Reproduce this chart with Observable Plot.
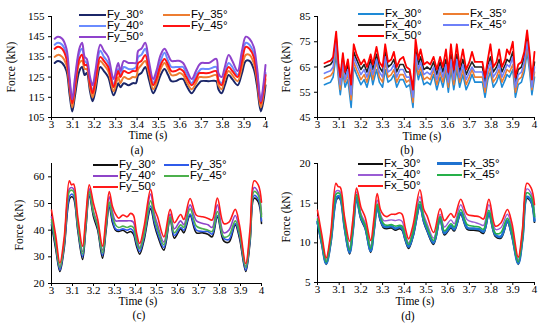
<!DOCTYPE html>
<html><head><meta charset="utf-8">
<script src="https://cdn.jsdelivr.net/npm/d3@7"></script>
<script src="https://cdn.jsdelivr.net/npm/@observablehq/plot@0.6"></script>
<style>
html,body{margin:0;padding:0;background:#fff;}
#root{position:relative;width:550px;height:329px;overflow:hidden;font-family:"Liberation Serif","Times New Roman",serif;color:#000;background:#fff;}
#root svg{position:absolute;}
.abs{position:absolute;white-space:nowrap;line-height:1;}
.leg{font-family:"Liberation Sans",Arial,sans-serif;font-size:11.5px;transform:translateY(-50%);}
.ttl{font-family:"Liberation Serif","Times New Roman",serif;font-size:11.5px;transform:translate(-50%,-50%);}
.rot{font-family:"Liberation Serif","Times New Roman",serif;font-size:11.5px;transform:translate(-50%,-50%) rotate(-90deg);}
</style></head><body><div id="root"></div>
<script>
// ---------- data ----------
const xTicks = [3, 3.1, 3.2, 3.3, 3.4, 3.5, 3.6, 3.7, 3.8, 3.9, 4];
const yTicksA = [105, 115, 125, 135, 145, 155];
const yTicksB = [45, 55, 65, 75, 85];
const yTicksC = [20, 30, 40, 50, 60];
const yTicksD = [5, 10, 15, 20];

const namesA = ["Fy_30°", "Fy_35°", "Fy_40°", "Fy_45°", "Fy_50°"];
const namesB = ["Fx_30°", "Fx_35°", "Fx_40°", "Fx_45°", "Fx_50°"];
const namesC = ["Fy_30°", "Fy_35°", "Fy_40°", "Fy_45°", "Fy_50°"];
const namesD = ["Fx_30°", "Fx_35°", "Fx_40°", "Fx_45°", "Fx_50°"];

// (a)
const tA = [3.015,3.03,3.05,3.07,3.085,3.097,3.11,3.13,3.143,3.155,3.165,3.18,3.192,3.205,3.228,3.245,3.265,3.29,3.305,3.312,3.322,3.338,3.36,3.38,3.395,3.405,3.42,3.438,3.455,3.475,3.49,3.51,3.528,3.545,3.56,3.58,3.60,3.615,3.63,3.655,3.675,3.69,3.70,3.735,3.77,3.78,3.795,3.81,3.828,3.845,3.87,3.89,3.908,3.925,3.945,3.96,3.978,3.99,4.0];
const a30 = [132,133,132,128,116,108,116,128,130,126,127,118,113,118,130,128,125,116,120,122,120,122,121,122,122,126,127,130,124,117,120,126,129,126,123,123,124,124,121,117,120,122,123,123,123,119,117,121,126,124,121,127,133,133,129,121,108,113,121];
const a35 = [135,136,135,131,119,110,119,132,133,129,129,120,115,121,133,131,128,118,123,125,122,125,124,125,125,129,131,133,127,119,122,129,132,129,126,126,127,126,123,119,122,125,125,125,126,121,119,124,128,126,123,130,136,136,132,124,110,116,124];
const a40 = [141,142,141,136,122,113,123,137,139,133,132,123,118,125,138,135,132,121,127,129,126,130,129,129,130,135,136,139,131,122,126,133,137,133,130,130,130,130,127,122,126,128,129,129,130,124,122,127,132,130,126,135,142,141,137,128,113,119,127];
const a45 = [139,140,139,134,121,112,121,134,136,131,131,122,117,123,135,133,130,120,126,128,125,128,127,128,128,132,133,136,129,121,124,131,134,131,128,128,129,128,125,121,124,127,127,127,128,123,121,126,130,128,125,133,140,139,135,126,112,118,126];
const a50 = [144,145,144,139,124,114,125,139,142,135,134,125,121,128,141,138,135,124,130,132,128,133,132,132,132,138,139,142,133,124,128,136,139,136,133,133,133,132,129,124,128,131,132,132,134,127,125,130,136,133,128,138,145,144,140,130,113,121,131];

// (b)
const tB = [3.032,3.045,3.06,3.072,3.086,3.097,3.105,3.117,3.127,3.14,3.155,3.167,3.18,3.2,3.215,3.228,3.245,3.255,3.272,3.285,3.3,3.312,3.325,3.34,3.352,3.365,3.38,3.395,3.41,3.425,3.44,3.452,3.465,3.475,3.49,3.505,3.52,3.535,3.55,3.565,3.578,3.592,3.603,3.615,3.628,3.642,3.655,3.67,3.685,3.7,3.712,3.725,3.76,3.772,3.785,3.797,3.81,3.825,3.837,3.85,3.865,3.873,3.885,3.9,3.912,3.925,3.94,3.953,3.966,3.978,3.988,4.0];
const b30 = [58,58.5,59,61,70,60,54,63,57,60,49,65,62,58,60,57,63,58,64,59,57,64,59,60,62,57,60,60,57,58,49,66,60,63,58,59,58,62,56,61,57,63,55,64,56,64,57,62,56,59,62,59,59,53,60,63,57,59,62,57,60,62,61,64,53,58,59,63,71,63,54,61];
const b35 = [60.5,61,61.5,63,73,62,56,65,59,62,52,67,64,60,62,59,65,60,67,61,59,67,61,62,64,59,62,62,59,60,51,68,62,65,60,61,60,64,58,63,59,65,57,66,58,66,59,64,58,61,64,61,61,55,62,65,59,61,64,59,62,64,63,66,55,60,61,65,73,65,56,63];
const b40 = [65,65.5,66,67.5,77,65,60,69,62,66,56,71,68,64,66,63,68,64,70,65,63,71,65,66,68,63,66,66,63,63,55,72,66,69,64,65,64,67,62,67,63,68,61,70,62,70,63,68,62,65,67,65,65,59,66,69,63,65,68,63,66,68,67,71,59,64,65,69,77,68,59,67];
const b45 = [62.5,63,63.5,65,75,63,58,67,60,64,54,69,66,62,64,61,66,62,68,63,61,69,63,64,66,61,64,64,61,61,53,70,64,67,62,63,62,65,60,65,61,66,59,68,60,68,61,66,60,63,65,63,63,57,64,67,61,63,66,61,64,66,65,69,57,62,63,67,75,66,57,65];
const b50 = [66.5,67,67.5,69,79,66,61,70.5,63,68,58,74,70,66,68,65,70,66,73,67,65,74,67,68,71,65,68,69,65,64,56,76,68,72,66,67,66,69,64,69,65,72,63,74,64,74,65,72,64,67,71,67,67,61,68,74,65,67,72,65,68,72,70,75,61,66,67,71,79.5,70,60,71];

// (c)
const tC = [3.0,3.02,3.04,3.06,3.085,3.095,3.105,3.125,3.148,3.163,3.18,3.2,3.22,3.243,3.26,3.275,3.29,3.305,3.32,3.34,3.36,3.377,3.39,3.405,3.42,3.44,3.472,3.49,3.505,3.535,3.565,3.585,3.615,3.63,3.66,3.69,3.72,3.745,3.765,3.79,3.82,3.845,3.875,3.895,3.925,3.945,3.965,3.985,4.0];
const c30 = [42,33,24.5,33,51.5,52.5,52,40,29,40,53,45,40,29.5,40,49,43,40,39.5,40,39,39.5,38.5,34,31,36,48,42,38,32.5,44,37,40.5,39,45.5,39,39,38.5,37.5,45,36,35.5,42,37,24.5,35,52,50.5,42.5];
const c35 = [43,34,25,34,52.5,53.5,53,41,30,41,53.5,46,41,30.5,41,49.5,44,40.5,40,40.5,40,40.5,39.5,35,32,37,49,43,39,33.5,44.5,38,41,40,46,40,39.5,39.5,38.5,45.5,37,36.5,42.5,38,25,36,53,51.5,43.5];
const c40 = [45,36,26,35,55.5,56,55.5,43,32,43,55.5,47,42,32.5,43,52.5,47,43.5,43.5,43.5,43.5,43.5,43,37.5,33.5,39,53.5,46,42,35.5,46,40.5,43.5,42,49.5,43.5,42.5,42,41,49.5,39,40,45.5,40,26.5,38,56,54,46];
const c45 = [44,35,26,35,54.5,55,54.5,42,31,42,54.5,46.5,41.5,31.5,42,50.5,45.5,42,41,41.5,41,41.5,41,36,33,38,51,44.5,40.5,34.5,45,39,42,41,48,41.5,40.5,40,39.5,47,37.5,38,43.5,39,26,37,54.5,53,45];
const c50 = [47.5,38,27.7,37,58.5,57,57.3,45,34,45,57,50,44,34,45,54.5,49,46,44.5,45.7,45,46.3,45.6,39,35,41,55.3,48,45,37.5,47.8,42.8,45.9,44,51.9,45.6,45,44.4,43.8,52,42.5,43,47.8,42,27.5,40,58.5,56.9,50.5];

// (d)
const tD = [3.0,3.02,3.04,3.06,3.085,3.095,3.105,3.125,3.148,3.163,3.18,3.2,3.22,3.245,3.26,3.275,3.29,3.305,3.32,3.34,3.36,3.377,3.39,3.405,3.42,3.44,3.472,3.49,3.505,3.535,3.565,3.585,3.615,3.63,3.66,3.69,3.72,3.745,3.765,3.79,3.82,3.845,3.875,3.895,3.925,3.945,3.965,3.985,4.0];
const d30 = [12.5,9.8,7.3,9.8,15.3,15.7,15.5,11.8,8.6,11.5,15.5,13,11.8,8.8,11.5,14.5,12.8,11.9,11.8,11.9,11.6,11.8,11.6,10.3,9.3,10.8,14.6,12.6,11.5,9.8,13,11,11.9,11.5,13.6,11.7,11.6,11.5,11.2,13.6,10.8,10.6,12.6,11,7.3,10.5,15.6,15.1,12.6];
const d35 = [12.7,10,7.4,10,15.5,15.9,15.7,12,8.8,11.7,15.7,13.2,12,9,11.7,14.6,13,12.1,12,12.1,11.8,12,11.8,10.5,9.5,11,14.8,12.8,11.7,10,13.2,11.2,12.1,11.7,13.8,11.9,11.8,11.7,11.4,13.8,11,10.8,12.8,11.2,7.4,10.7,15.8,15.3,12.8];
const d40 = [13.3,10.4,7.7,10.3,16.5,16.6,16.4,12.6,9.4,12.3,16.4,13.7,12.5,9.6,12.3,15.4,13.6,12.8,12.8,12.9,12.8,12.9,12.7,11.1,10,11.6,15.8,13.5,12.4,10.6,13.6,12,12.9,12.4,14.8,12.9,12.6,12.4,12.2,14.8,11.7,11.9,13.6,12,7.8,11.3,16.8,16.2,13.6];
const d45 = [13,10.2,7.6,10.2,16.1,16.3,16.1,12.3,9.1,12,16.1,13.4,12.2,9.3,12,14.9,13.3,12.4,12.2,12.3,12.1,12.2,12.1,10.8,9.8,11.3,15.2,13.1,12,10.3,13.3,11.5,12.4,12,14.2,12.3,12.1,12,11.7,14.1,11.2,11.3,13.1,11.5,7.6,11,16.3,15.8,13.3];
const d50 = [14.1,11,8.1,11,17.5,17.1,17,13.2,10.2,12.9,16.9,14.5,13.2,10.3,13,16.2,14.2,13.5,13.3,13.6,13.6,13.8,13.6,11.8,10.5,12.2,16.7,14.2,13.4,11.3,14.3,12.8,13.7,13.2,15.5,13.6,13.4,13.3,13,15.5,12.1,12.5,14.2,12.6,8.2,11.9,17.5,16.9,14.8];

// ---------- drawing ----------
const root = document.getElementById("root");

function addText(cls, txt, x, y, extra) {
  const el = document.createElement("div");
  el.className = "abs " + cls;
  el.textContent = txt;
  el.style.left = x + "px";
  el.style.top = y + "px";
  if (extra) Object.assign(el.style, extra);
  root.appendChild(el);
  return el;
}

function panel(p) {
  const marks = [
    Plot.ruleX([3], {stroke: "#000", strokeWidth: 1}),
    Plot.ruleY([p.yDomain[0]], {stroke: "#000", strokeWidth: 1}),
    Plot.axisY(p.yTicks, {tickSize: 3, tickPadding: 4, label: null, stroke: "#000"}),
    Plot.axisX(xTicks, {tickSize: 3, tickPadding: 0, label: null, stroke: "#000",
      tickFormat: d => String(+d.toFixed(1))})
  ];
  p.series.forEach((vals, k) => {
    const rows = p.times.map((t, i) => ({t, v: vals[i]}));
    marks.push(Plot.line(rows, {x: "t", y: "v", stroke: p.colors[k], strokeWidth: p.widths[k], curve: p.curve}));
  });
  const svg = Plot.plot({
    width: p.w, height: p.h,
    marginLeft: p.m[0], marginRight: p.m[1], marginTop: p.m[2], marginBottom: p.m[3],
    x: {domain: [3, 4]},
    y: {domain: p.yDomain},
    style: {fontFamily: "'Liberation Serif', 'Times New Roman', serif", fontSize: "11px", color: "#000", background: "transparent", overflow: "visible"},
    marks
  });
  svg.style.left = p.left + "px";
  svg.style.top = p.top + "px";
  root.appendChild(svg);

  // axis titles and panel tag
  addText("ttl", "Time (s)", p.timeXY[0], p.timeXY[1]);
  addText("ttl", p.tag, p.tagXY[0], p.tagXY[1]);
  addText("rot", "Force (kN)", p.forceXY[0], p.forceXY[1]);

  // legend
  const L = p.legend;
  p.names.forEach((nm, k) => {
    const row = Math.floor(k / 2), col = k % 2;
    const y = L.rows[row];
    const x1 = L.lineX[col];
    const line = document.createElement("div");
    line.className = "abs";
    const lw = Math.max(2, p.widths[k]);
    Object.assign(line.style, {left: x1 + "px", top: (y - lw / 2) + "px",
      width: L.len + "px", height: lw + "px", background: p.colors[k]});
    root.appendChild(line);
    addText("leg", nm, x1 + L.len + 1, y);
  });
}

panel({
  left: 0, top: 0, w: 275, h: 160, m: [51, 10, 16, 43], yDomain: [105, 155], yTicks: yTicksA,
  times: tA, series: [a30, a35, a40, a45, a50], names: namesA, tag: "(a)",
  colors: ["#1b2668", "#ED7D31", "#6A8BFF", "#FF1414", "#8F43CC"], widths: [2, 2, 2, 2, 2],
  curve: "catmull-rom",
  timeXY: [148, 136], tagXY: [137, 151], forceXY: [12, 67],
  legend: {lineX: [79, 163], len: 27, rows: [15, 25.7, 36.7]}
});
panel({
  left: 275, top: 0, w: 275, h: 160, m: [42, 16, 16, 43], yDomain: [45, 85], yTicks: yTicksB,
  times: tB, series: [b30, b35, b40, b45, b50], names: namesB, tag: "(b)",
  colors: ["#1E8AD6", "#ED7D31", "#222222", "#6E80F8", "#FF0000"], widths: [1.6, 1.6, 1.6, 1.6, 1.8],
  curve: "linear",
  timeXY: [422, 137], tagXY: [407, 151], forceXY: [287, 67],
  legend: {lineX: [358, 443], len: 26, rows: [14.3, 25, 35.7]}
});
panel({
  left: 0, top: 160, w: 275, h: 169, m: [51, 14, 3, 46], yDomain: [20, 65], yTicks: yTicksC,
  times: tC, series: [c30, c35, c40, c45, c50], names: namesC, tag: "(c)",
  colors: ["#111111", "#2F5BEA", "#8E44C8", "#4CB04C", "#FF1A1A"], widths: [1.6, 1.6, 1.6, 1.6, 1.6],
  curve: "catmull-rom",
  timeXY: [138, 302], tagXY: [139, 316], forceXY: [20, 225],
  legend: {lineX: [93, 164], len: 25, rows: [164.5, 175.5, 187]}
});
panel({
  left: 275, top: 160, w: 275, h: 169, m: [42, 16, 3, 47], yDomain: [5, 20], yTicks: yTicksD,
  times: tD, series: [d30, d35, d40, d45, d50], names: namesD, tag: "(d)",
  colors: ["#111111", "#1F72D0", "#9A5CD4", "#26B04A", "#FF1A1A"], widths: [1.8, 2.6, 1.4, 1.6, 1.6],
  curve: "catmull-rom",
  timeXY: [415, 302], tagXY: [408, 317], forceXY: [287, 217],
  legend: {lineX: [358, 437], len: 25, rows: [163.5, 175, 186]}
});
</script></body></html>
